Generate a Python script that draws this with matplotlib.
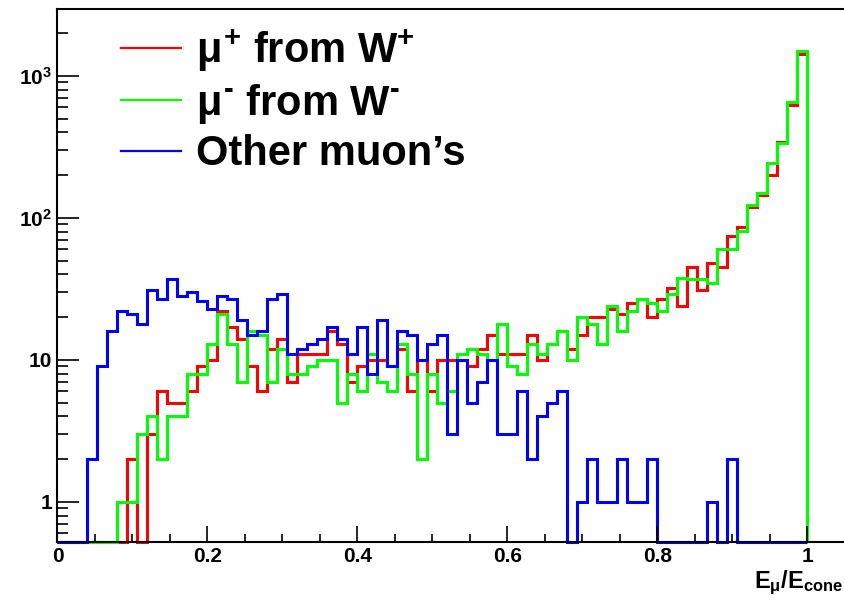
import numpy as np
import matplotlib
matplotlib.use("Agg")
import matplotlib.pyplot as plt
from matplotlib.lines import Line2D
from matplotlib.ticker import FixedLocator, MultipleLocator, LogLocator, NullFormatter

plt.rcParams['font.family'] = ['Liberation Sans', 'DejaVu Sans']
plt.rcParams['font.weight'] = 'bold'
plt.rcParams['mathtext.fontset'] = 'custom'
plt.rcParams['mathtext.rm'] = 'Liberation Sans:bold'
plt.rcParams['mathtext.bf'] = 'Liberation Sans:bold'
plt.rcParams['mathtext.it'] = 'Liberation Sans:bold'

# 75 bins of E_mu/E_cone between 0 and 1
n_bins = 75
mu_plus_w = [0, 0, 0, 0, 0, 0, 0, 2, 0, 3,
             6, 5, 5, 6, 9, 10, 22, 17, 14, 9,
             6, 12, 14, 7, 11, 11, 11, 16, 13, 7,
             9, 10, 10, 9, 12, 6, 10, 6, 10, 10,
             10, 9, 12, 15, 11, 11, 11, 15, 10, 13,
             16, 12, 15, 20, 20, 23, 21, 25, 27, 20,
             27, 32, 24, 45, 31, 48, 45, 74, 87, 119,
             145, 201, 344, 625, 1429]
mu_minus_w = [0, 0, 0, 0, 0, 0, 1, 1, 3, 4,
              2, 4, 4, 8, 8, 13, 21, 13, 7, 16,
              15, 7, 12, 8, 8, 9, 10, 10, 5, 8,
              6, 11, 7, 6, 13, 8, 2, 8, 5, 6,
              11, 12, 11, 10, 18, 9, 8, 13, 11, 13,
              16, 10, 20, 18, 13, 24, 16, 22, 27, 25,
              22, 29, 38, 37, 37, 35, 60, 60, 81, 123,
              149, 245, 336, 659, 1500]
other_mu = [0, 0, 0, 2, 9, 16, 22, 21, 18, 31,
            27, 37, 28, 30, 26, 23, 28, 27, 19, 15,
            16, 27, 29, 11, 12, 13, 14, 17, 14, 11,
            17, 8, 19, 9, 16, 15, 10, 13, 15, 3,
            10, 5, 7, 10, 3, 3, 6, 2, 4, 5,
            6, 0, 1, 2, 1, 1, 2, 1, 1, 2,
            0, 0, 0, 0, 0, 1, 0, 2, 0, 0,
            0, 0, 0, 0, 0]

labels = [r'$\mu^{+}$ from W$^{+}$', r'$\mu^{\text{-}}$ from W$^{\text{-}}$', "Other muon\u2019s"]
colors = ['#ff0000', '#00ff00', '#0000ff']

x_ticks = [0, 0.2, 0.4, 0.6, 0.8, 1.0]
x_ticklabels = ['0', '0.2', '0.4', '0.6', '0.8', '1']
y_ticks = [1, 10, 100, 1000]
y_ticklabels = ['1', '10', r'10$^{2}$', r'10$^{3}$']

ymin, ymax = 0.525, 2950
edges = np.linspace(0, 1, n_bins + 1)

fig = plt.figure(figsize=(8.45, 6.01), dpi=100)
ax = fig.add_axes([0.068, 0.0987, 0.932, 0.886])
ax.set_yscale('log')

for vals, col in zip([mu_plus_w, mu_minus_w, other_mu], colors):
    v = np.array(vals, dtype=float)
    v = np.where(v > 0, v, ymin)
    ax.stairs(v, edges, baseline=ymin, color=col, lw=2.2, clip_on=False)

ax.set_xlim(0, 1.05)
ax.set_ylim(ymin, ymax)

ax.xaxis.set_major_locator(FixedLocator(x_ticks))
ax.set_xticklabels(x_ticklabels)
ax.xaxis.set_minor_locator(MultipleLocator(0.05))
ax.yaxis.set_major_locator(FixedLocator(y_ticks))
ax.set_yticklabels(y_ticklabels)
ax.yaxis.set_minor_locator(LogLocator(base=10, subs=np.arange(2, 10)))
ax.yaxis.set_minor_formatter(NullFormatter())

ax.tick_params(axis='x', which='major', direction='in', length=11.5, width=1.2,
               labelsize=15, pad=4)
ax.tick_params(axis='x', which='minor', direction='in', length=5.8, width=1.2)
ax.tick_params(axis='y', which='major', direction='in', length=16, width=1.2,
               labelsize=15, pad=4)
ax.tick_params(axis='y', which='minor', direction='in', length=8, width=1.2)
for s in ['left', 'bottom', 'top']:
    ax.spines[s].set_linewidth(1.5)
ax.spines['right'].set_visible(False)

handles = [Line2D([], [], color=c, lw=1.6) for c in colors]
ax.legend(handles, labels, loc='upper left', bbox_to_anchor=(121 / 845, 1 - 27 / 601),
          bbox_transform=fig.transFigure, frameon=False, fontsize=30,
          handlelength=1.45, handletextpad=0.35, labelspacing=0.2,
          borderpad=0, borderaxespad=0)

fig.text(0.998, 0.006, r'E$_{\mu}$/E$_{\mathrm{cone}}$', ha='right', va='bottom', fontsize=17)

fig.savefig('out.png', dpi=100)
